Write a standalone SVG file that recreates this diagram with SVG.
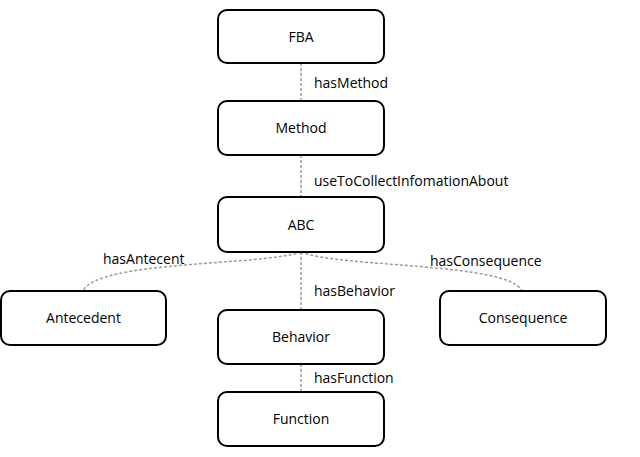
<svg xmlns="http://www.w3.org/2000/svg" width="640" height="457" viewBox="0 0 640 457">
<style>
.box{fill:#fff;stroke:#000;stroke-width:2}
.lbl{font-family:"Open Sans","Liberation Sans",sans-serif;font-size:14px;fill:#000}
.node{text-anchor:middle}
.con{fill:none;stroke:#9a9a9a;stroke-width:1.5;stroke-dasharray:3 2}
</style>
<rect width="640" height="457" fill="#fff"/>
<g id="connectors">
<path class="con" d="M301,63 V101"/>
<path class="con" d="M301,155 V197"/>
<path class="con" d="M301,252 V310"/>
<path class="con" d="M301,364 V392"/>
<path class="con" d="M301,252 C262,266 98,260 83,291"/>
<path class="con" d="M301,252 C340,268 508,262 522,291"/>
<text class="lbl" x="314" y="88">hasMethod</text>
<text class="lbl" x="314" y="186">useToCollectInfomationAbout</text>
<text class="lbl" x="103" y="264">hasAntecent</text>
<text class="lbl" x="430" y="266">hasConsequence</text>
<text class="lbl" x="314" y="296">hasBehavior</text>
<text class="lbl" x="314" y="383">hasFunction</text>
</g>
<g id="fba"><rect class="box" x="218" y="10" width="166" height="53" rx="9"/><text class="lbl node" x="301" y="42">FBA</text></g>
<g id="method"><rect class="box" x="218" y="101" width="166" height="54" rx="9"/><text class="lbl node" x="301" y="133">Method</text></g>
<g id="abc"><rect class="box" x="218" y="197" width="166" height="55" rx="9"/><text class="lbl node" x="301" y="230">ABC</text></g>
<g id="antecedent"><rect class="box" x="1" y="291" width="165" height="54" rx="9"/><text class="lbl node" x="83.5" y="323">Antecedent</text></g>
<g id="behavior"><rect class="box" x="218" y="310" width="166" height="54" rx="9"/><text class="lbl node" x="301" y="342">Behavior</text></g>
<g id="consequence"><rect class="box" x="440" y="291" width="166" height="54" rx="9"/><text class="lbl node" x="523" y="323">Consequence</text></g>
<g id="function"><rect class="box" x="218" y="392" width="166" height="54" rx="9"/><text class="lbl node" x="301" y="424">Function</text></g>
</svg>
